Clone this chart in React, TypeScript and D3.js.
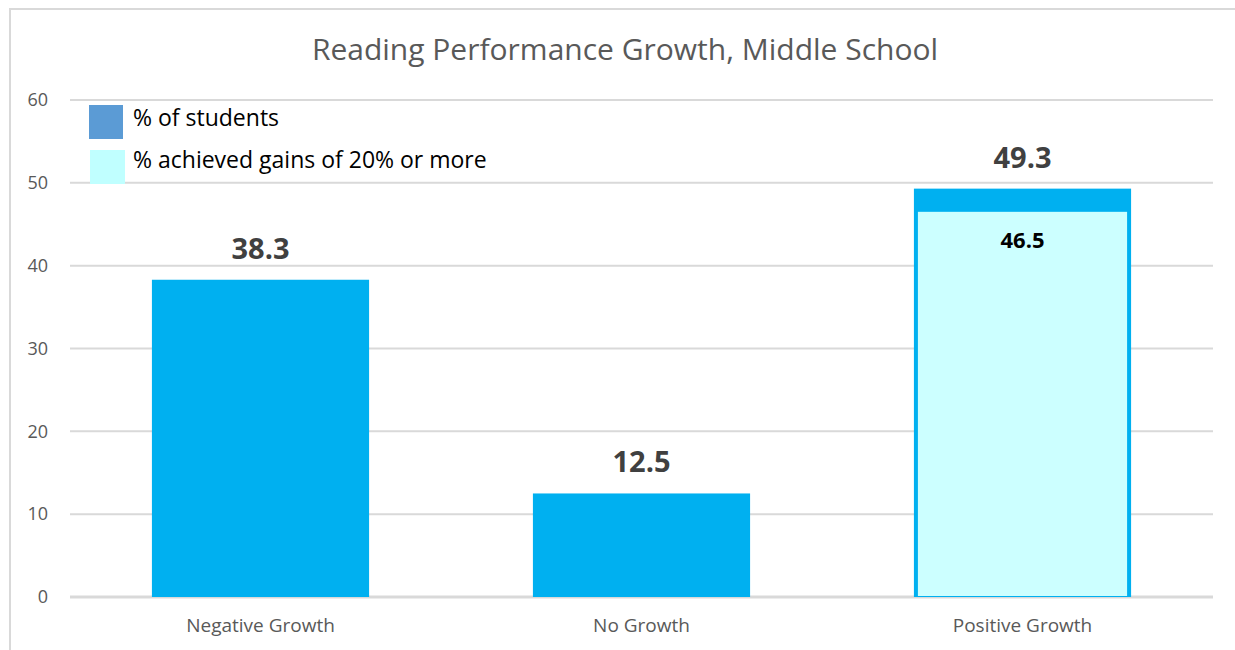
import React from "react";
import * as d3 from "d3";

const categories = ["Negative Growth", "No Growth", "Positive Growth"];
const percentStudents = [38.3, 12.5, 49.3];
const achievedGains: (number | null)[] = [null, null, 46.5];
const yTicks = [0, 10, 20, 30, 40, 50, 60];
const seriesNames = ["% of students", "% achieved gains of 20% or more"];
const title = "Reading Performance Growth, Middle School";

const W = 1235;
const H = 650;
const FONT = "'Open Sans', 'Noto Sans', sans-serif";

export default function App() {
  const y = d3.scaleLinear().domain([0, 60]).range([597, 100]);
  const x = d3
    .scaleBand<string>()
    .domain(categories)
    .range([70, 1213])
    .paddingInner(0.43)
    .paddingOuter(0.215);
  const bw = x.bandwidth();
  const inset = 4;

  return (
    <svg
      width={W}
      height={H}
      style={{ position: "absolute", left: 0, top: 0, background: "#fff" }}
      fontFamily={FONT}
    >
      <rect x={10} y={9} width={W + 20} height={H + 20} fill="#fff" stroke="#d9d9d9" strokeWidth={2} />
      <text x={625} y={60} textAnchor="middle" fontSize={30} fill="#595959">
        {title}
      </text>

      {yTicks.map((t) => (
        <g key={t}>
          <line
            x1={70}
            x2={1213}
            y1={y(t)}
            y2={y(t)}
            stroke="#d9d9d9"
            strokeWidth={t === 0 ? 3 : 2}
          />
          <text x={48} y={y(t)} dy="0.35em" textAnchor="end" fontSize={18} fill="#595959">
            {t}
          </text>
        </g>
      ))}

      {categories.map((c, i) => (
        <g key={c}>
          <rect
            x={x(c)!}
            y={y(percentStudents[i])}
            width={bw}
            height={y(0) - y(percentStudents[i])}
            fill="#00B0F0"
          />
          {achievedGains[i] != null && (
            <rect
              x={x(c)! + inset}
              y={y(achievedGains[i] as number)}
              width={bw - 2 * inset}
              height={y(0) - y(achievedGains[i] as number) - 1}
              fill="#CCFFFF"
            />
          )}
          <text
            x={x(c)! + bw / 2}
            y={y(percentStudents[i]) - 21}
            textAnchor="middle"
            fontSize={29}
            fontWeight="bold"
            fill="#404040"
          >
            {percentStudents[i]}
          </text>
          {achievedGains[i] != null && (
            <text
              x={x(c)! + bw / 2}
              y={y(achievedGains[i] as number) + 36}
              textAnchor="middle"
              fontSize={22}
              fontWeight="bold"
              fill="#000"
            >
              {achievedGains[i]}
            </text>
          )}
          <text
            x={x(c)! + bw / 2}
            y={625}
            dy="0.35em"
            textAnchor="middle"
            fontSize={19}
            fill="#595959"
          >
            {c}
          </text>
        </g>
      ))}

      <rect x={89} y={105} width={34} height={34} fill="#5B9BD5" />
      <text x={133} y={126} fontSize={23} fill="#000">
        {seriesNames[0]}
      </text>
      <rect x={90} y={150} width={35} height={34} fill="#C0FFFF" />
      <text x={133} y={168} fontSize={23} fill="#000">
        {seriesNames[1]}
      </text>
    </svg>
  );
}
